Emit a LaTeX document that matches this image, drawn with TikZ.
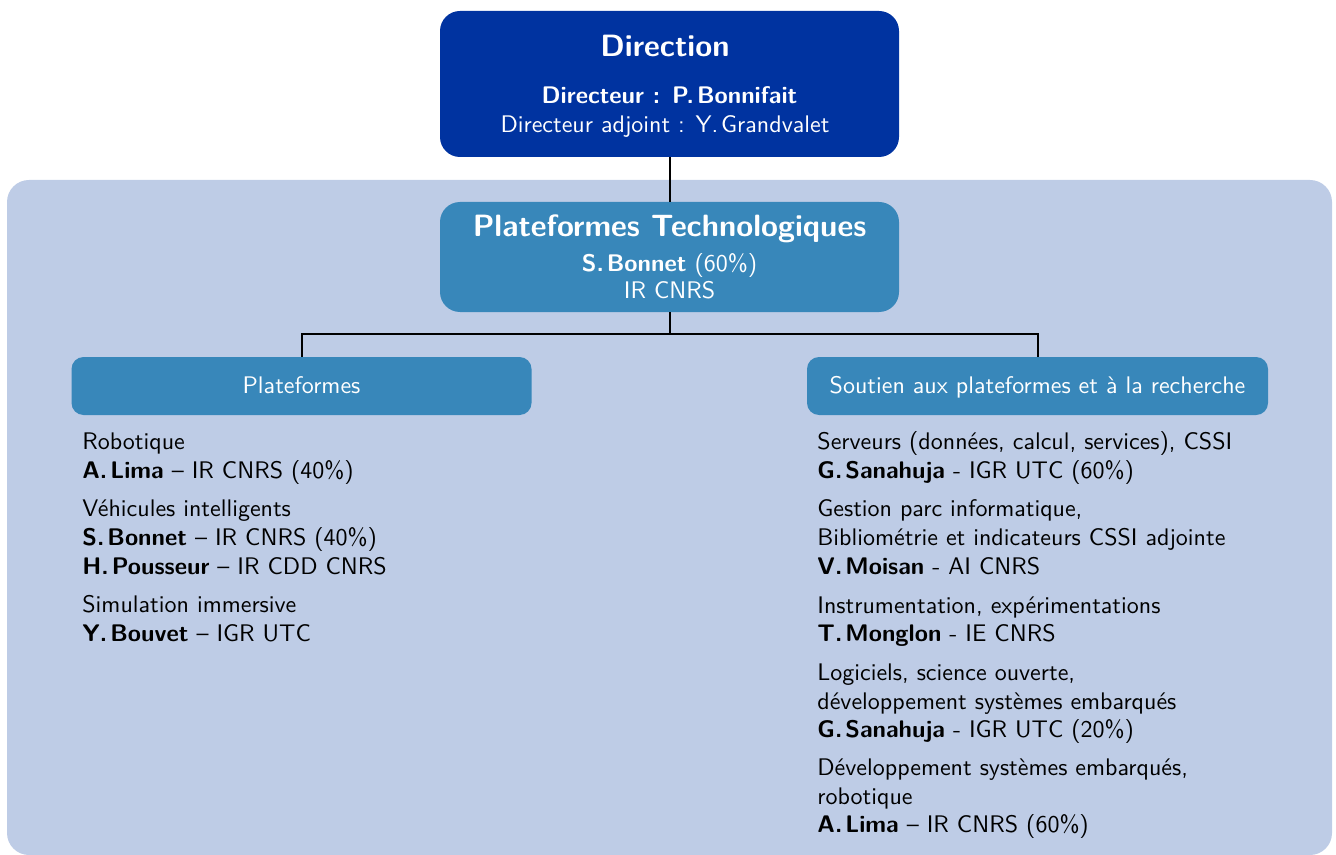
\documentclass[tikz,border=0pt]{standalone}
\usepackage{fontspec}
\setsansfont{lmsans10-regular}[Extension=.otf, BoldFont=lmsans10-bold]
\renewcommand{\familydefault}{\sfdefault}
\definecolor{dirblue}{HTML}{0033A0}
\definecolor{midblue}{HTML}{3887BA}
\definecolor{paleblue}{HTML}{BECCE6}
% initial followed by a surname, with a narrow gap
\newcommand{\ini}[2]{#1.\kern1.5pt#2}
\begin{document}
\begin{tikzpicture}[x=0.5pt,y=-0.5pt,
  panel/.style={rounded corners=#1, inner sep=0pt, outer sep=0pt},
  wtitle/.style={anchor=base, inner sep=0pt, text=white, font=\fontsize{15.4}{18}\selectfont\bfseries},
  wtext/.style={anchor=base, inner sep=0pt, text=white, font=\fontsize{12}{14.5}\selectfont},
  item/.style={anchor=base west, inner sep=0pt, font=\fontsize{12}{14.5}\selectfont},
  link/.style={line width=1pt, draw=black}]
\useasboundingbox (0,0) rectangle (1336,855);

% light background of the technical platforms unit
\node[panel=11pt, fill=paleblue, minimum width=662.5pt, minimum height=337.5pt] (bg) at (669.5,517.5) {};

% direction
\node[panel=10pt, fill=dirblue, minimum width=229.5pt, minimum height=73pt] (dir) at (669.5,84) {};
\node[wtitle] (dirT) at (665,57) {Direction};
\node[wtext] (dirA) at (669.5,104) {\bfseries Directeur : \ini{P}{Bonnifait}};
\node[wtext] (dirB) at (665,133) {Directeur adjoint : \ini{Y}{Grandvalet}};

% technical platforms head
\node[panel=10pt, fill=midblue, minimum width=229.5pt, minimum height=55pt] (pt) at (669.5,257) {};
\node[wtitle] (ptT) at (669.5,237) {Plateformes Technologiques};
\node[wtext] (ptA) at (669.5,271) {\textbf{\ini{S}{Bonnet}} (60\%)};
\node[wtext] (ptB) at (669.5,299) {IR CNRS};

% the two branches
\node[panel=6pt, fill=midblue, minimum width=230pt, minimum height=29pt] (plat) at (301.5,386) {};
\node[wtext] (platT) at (301.5,393.5) {Plateformes};
\node[panel=6pt, fill=midblue, minimum width=230.5pt, minimum height=29pt] (sout) at (1037.5,386) {};
\node[wtext] (soutT) at (1037.5,393) {Soutien aux plateformes et à la recherche};

% connectors
\coordinate (bar) at (669.5,333.5);
\draw[link] (dir.south) -- (pt.north);
\draw[link] (pt.south) -- (bar) -| (plat.north);
\draw[link] (bar) -| (sout.north);

% platforms list
\node[item] (l1) at (82,449) {Robotique};
\node[item] (l2) at (82,478) {\textbf{\ini{A}{Lima}} -- IR CNRS (40\%)};
\node[item] (l3) at (82,516.5) {Véhicules intelligents};
\node[item] (l4) at (82,545) {\textbf{\ini{S}{Bonnet}} -- IR CNRS (40\%)};
\node[item] (l5) at (82,574) {\textbf{\ini{H}{Pousseur}} -- IR CDD CNRS};
\node[item] (l6) at (82,612) {Simulation immersive};
\node[item] (l7) at (82,641) {\textbf{\ini{Y}{Bouvet}} -- IGR UTC};

% support list
\node[item] (r1) at (817,449.5) {Serveurs (données, calcul, services), CSSI};
\node[item] (r2) at (817,478.5) {\textbf{\ini{G}{Sanahuja}} - IGR UTC (60\%)};
\node[item] (r3) at (817,516.5) {Gestion parc informatique,};
\node[item] (r4) at (817,545) {Bibliométrie et indicateurs CSSI adjointe};
\node[item] (r5) at (817,574) {\textbf{\ini{V}{Moisan}} - AI CNRS};
\node[item] (r6) at (817,613) {Instrumentation, expérimentations};
\node[item] (r7) at (817,641.5) {\textbf{\ini{T}{Monglon}} - IE CNRS};
\node[item] (r8) at (817,680.5) {Logiciels, science ouverte,};
\node[item] (r9) at (817,709) {développement systèmes embarqués};
\node[item] (r10) at (817,737.5) {\textbf{\ini{G}{Sanahuja}} - IGR UTC (20\%)};
\node[item] (r11) at (817,775.5) {Développement systèmes embarqués,};
\node[item] (r12) at (817,804) {robotique};
\node[item] (r13) at (817,832.5) {\textbf{\ini{A}{Lima}} -- IR CNRS (60\%)};
\end{tikzpicture}
\end{document}
